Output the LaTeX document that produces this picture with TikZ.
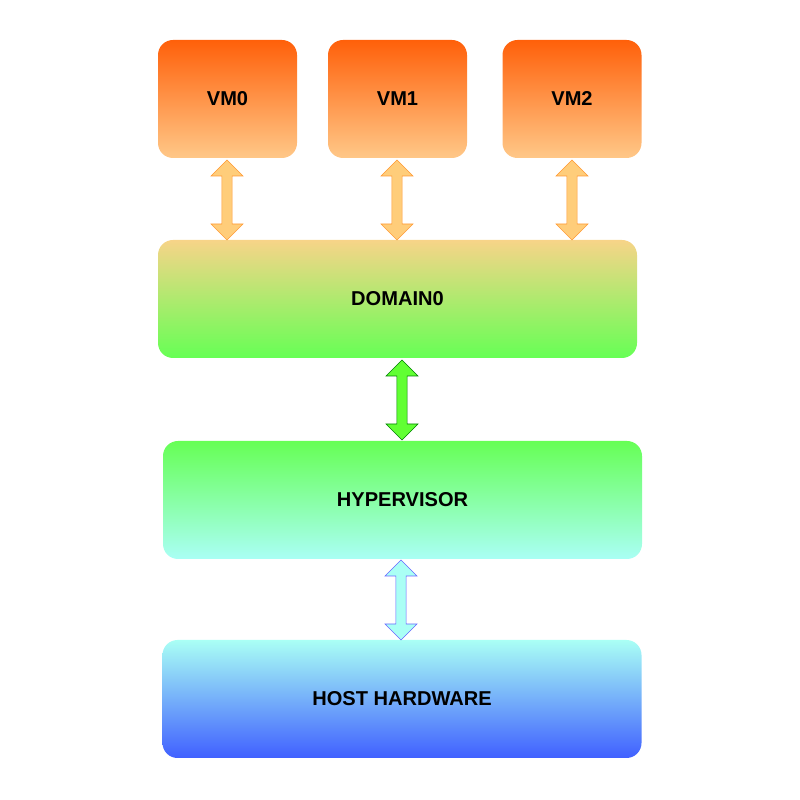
\documentclass[tikz,border=0pt]{standalone}
\usepackage{fontspec}
\setmainfont{Liberation Sans}
\usetikzlibrary{shapes.arrows}
\definecolor{vmtop}{HTML}{FF600A}
\definecolor{vmbot}{HTML}{FFC888}
\definecolor{domtop}{HTML}{F7D488}
\definecolor{domgreen}{HTML}{66FF55}
\definecolor{hypbot}{HTML}{AAFFF5}
\definecolor{hostbot}{HTML}{4060FF}
\tikzset{
  layer/.style={rounded corners=0.15in, minimum height=1.18in, font=\bfseries\fontsize{14.5}{17}\selectfont, inner sep=0pt},
  vmbox/.style={layer, minimum width=1.39in, top color=vmtop, bottom color=vmbot},
  wide/.style={layer, minimum width=4.79in},
  link/.style={double arrow, rotate=90, minimum height=0.8in, minimum width=0.32in,
    double arrow head extend=0.08in, inner sep=0.035in, line width=0.4pt}
}
\begin{document}
\begin{tikzpicture}[x=1in,y=1in]
\useasboundingbox (0,0) rectangle (8,8);
% guests
\node[vmbox] (vm0) at (2.275,7.01) {VM0};
\node[vmbox] (vm1) at (3.975,7.01) {VM1};
\node[vmbox] (vm2) at (5.72,7.01) {VM2};
% layers
\node[wide, top color=domtop, bottom color=domgreen] (dom) at (3.975,5.01) {DOMAIN0};
\node[wide, top color=domgreen, bottom color=hypbot] (hyp) at (4.025,3.0) {HYPERVISOR};
\node[wide, top color=hypbot, bottom color=hostbot] (host) at (4.02,1.01) {HOST HARDWARE};
% links
\node[link, fill=vmbot!90!yellow, draw=orange!80] (a0) at (2.27,6.0) {};
\node[link, fill=vmbot!90!yellow, draw=orange!80] (a1) at (3.97,6.0) {};
\node[link, fill=vmbot!90!yellow, draw=orange!80] (a2) at (5.72,6.0) {};
\node[link, fill=green!70!lime!80, draw=green!50!black] (a3) at (4.02,4.0) {};
\node[link, fill=hypbot, draw=blue!60] (a4) at (4.01,2.0) {};
\end{tikzpicture}
\end{document}
